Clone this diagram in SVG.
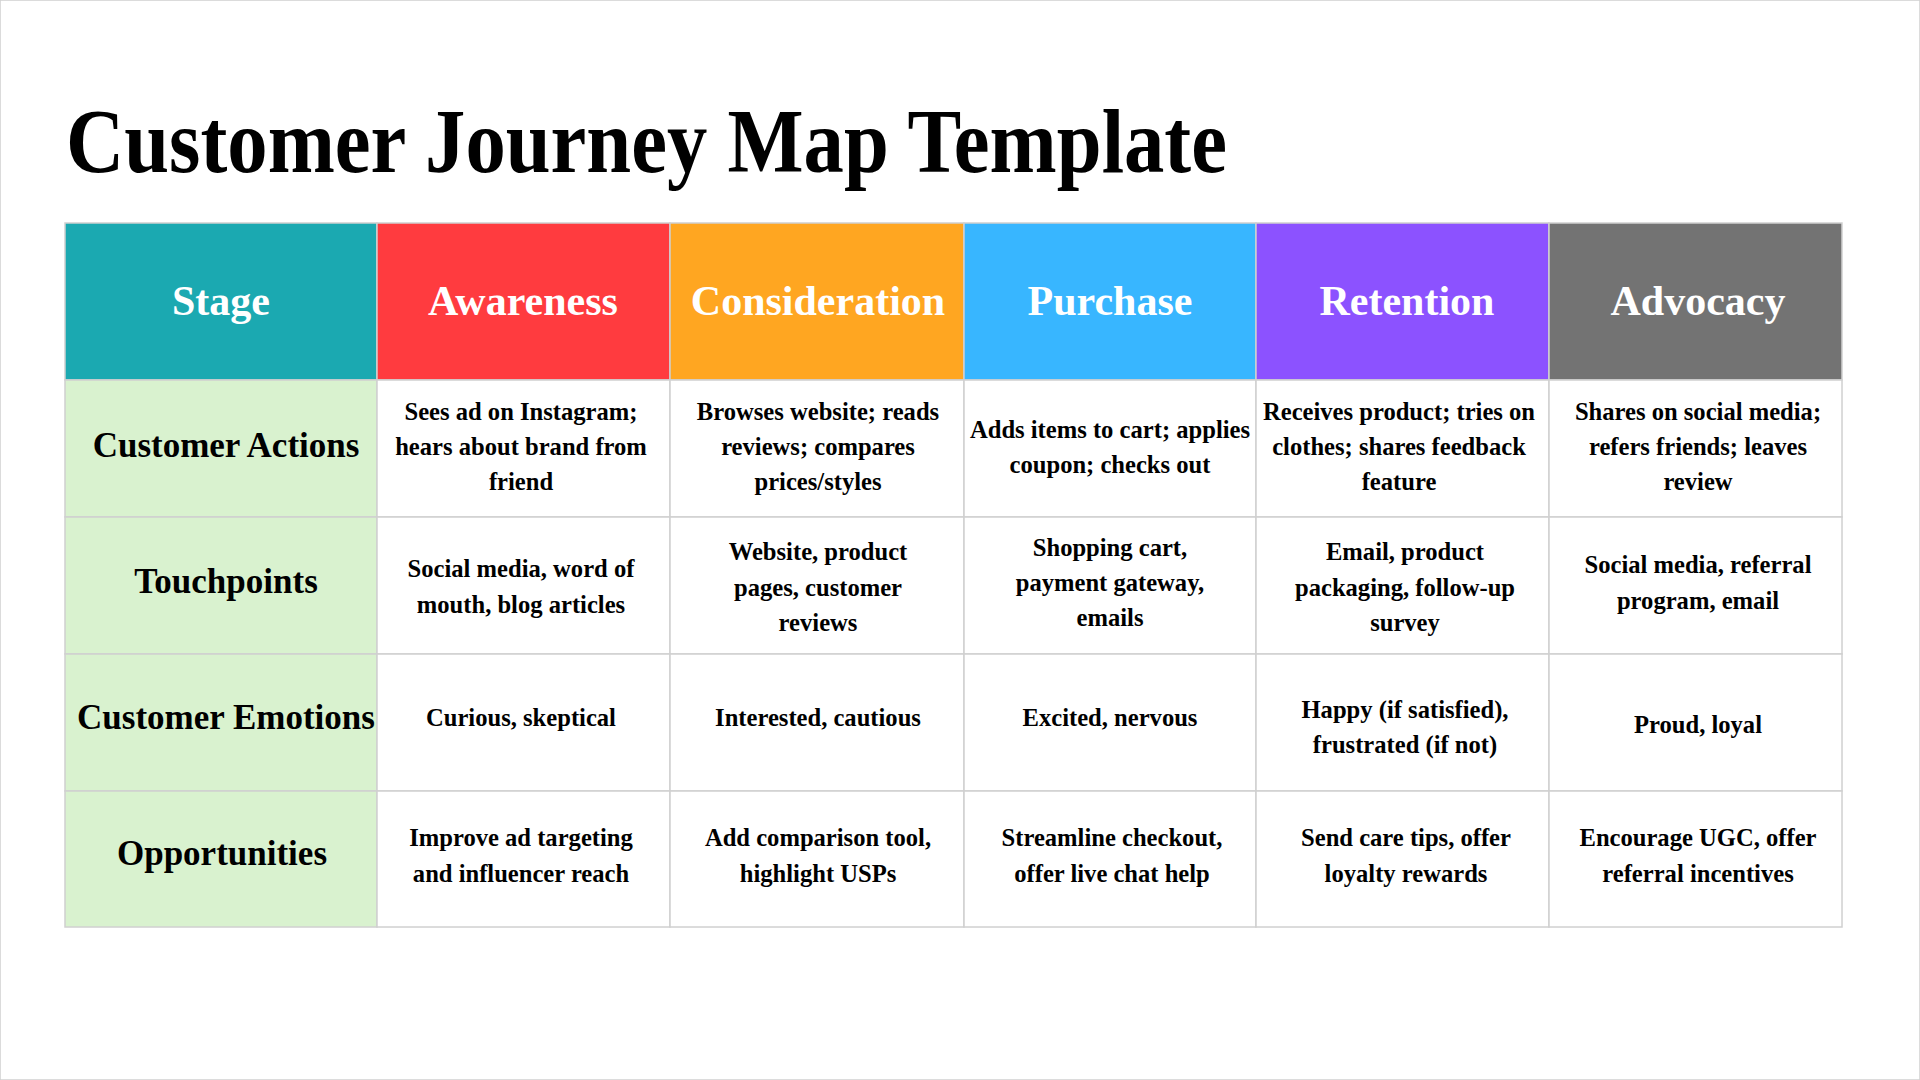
<svg xmlns="http://www.w3.org/2000/svg" width="1920" height="1080" viewBox="0 0 1920 1080">
<style>
text{font-family:"Liberation Serif","Times New Roman",serif;font-weight:bold;text-anchor:middle;dominant-baseline:central}
.t{font-size:90px;text-anchor:start;dominant-baseline:alphabetic}
.h{font-size:42px;fill:#fff}
.l{font-size:35px;fill:#000}
.c{font-size:24.6px;fill:#000}
rect{stroke:#d0d0d0;stroke-width:1.5}
.w{fill:#fff}
.g{fill:#D9F2CF}
</style>
<rect x="0" y="0" width="1920" height="1080" fill="#fff" stroke="none"/>
<text class="t" x="66" y="172" textLength="1161" lengthAdjust="spacingAndGlyphs">Customer Journey Map Template</text>
<g id="header">
<rect x="65" y="223" width="312" height="157" fill="#1BA9B1"/>
<rect x="377" y="223" width="293" height="157" fill="#FF3B3F"/>
<rect x="670" y="223" width="294" height="157" fill="#FFA621"/>
<rect x="964" y="223" width="292" height="157" fill="#38B6FF"/>
<rect x="1256" y="223" width="293" height="157" fill="#8C52FF"/>
<rect x="1549" y="223" width="293" height="157" fill="#737373"/>
<text class="h" x="221" y="301">Stage</text>
<text class="h" x="523" y="301">Awareness</text>
<text class="h" x="818" y="301">Consideration</text>
<text class="h" x="1110" y="301">Purchase</text>
<text class="h" x="1407" y="301">Retention</text>
<text class="h" x="1698" y="301">Advocacy</text>
</g>
<g id="row-actions">
<rect class="g" x="65" y="380" width="312" height="137"/>
<rect class="w" x="377" y="380" width="293" height="137"/><rect class="w" x="670" y="380" width="294" height="137"/><rect class="w" x="964" y="380" width="292" height="137"/><rect class="w" x="1256" y="380" width="293" height="137"/><rect class="w" x="1549" y="380" width="293" height="137"/>
<text class="l" x="226" y="445">Customer Actions</text>
<text class="c" x="521" y="411">Sees ad on Instagram;</text><text class="c" x="521" y="446">hears about brand from</text><text class="c" x="521" y="481">friend</text>
<text class="c" x="818" y="411">Browses website; reads</text><text class="c" x="818" y="446">reviews; compares</text><text class="c" x="818" y="481">prices/styles</text>
<text class="c" x="1110" y="429">Adds items to cart; applies</text><text class="c" x="1110" y="464">coupon; checks out</text>
<text class="c" x="1399" y="411">Receives product; tries on</text><text class="c" x="1399" y="446">clothes; shares feedback</text><text class="c" x="1399" y="481">feature</text>
<text class="c" x="1698" y="411">Shares on social media;</text><text class="c" x="1698" y="446">refers friends; leaves</text><text class="c" x="1698" y="481">review</text>
</g>
<g id="row-touchpoints">
<rect class="g" x="65" y="517" width="312" height="137"/>
<rect class="w" x="377" y="517" width="293" height="137"/><rect class="w" x="670" y="517" width="294" height="137"/><rect class="w" x="964" y="517" width="292" height="137"/><rect class="w" x="1256" y="517" width="293" height="137"/><rect class="w" x="1549" y="517" width="293" height="137"/>
<text class="l" x="226" y="581">Touchpoints</text>
<text class="c" x="521" y="568">Social media, word of</text><text class="c" x="521" y="604">mouth, blog articles</text>
<text class="c" x="818" y="551">Website, product</text><text class="c" x="818" y="587">pages, customer</text><text class="c" x="818" y="622">reviews</text>
<text class="c" x="1110" y="547">Shopping cart,</text><text class="c" x="1110" y="582">payment gateway,</text><text class="c" x="1110" y="617">emails</text>
<text class="c" x="1405" y="551">Email, product</text><text class="c" x="1405" y="587">packaging, follow-up</text><text class="c" x="1405" y="622">survey</text>
<text class="c" x="1698" y="564">Social media, referral</text><text class="c" x="1698" y="600">program, email</text>
</g>
<g id="row-emotions">
<rect class="g" x="65" y="654" width="312" height="137"/>
<rect class="w" x="377" y="654" width="293" height="137"/><rect class="w" x="670" y="654" width="294" height="137"/><rect class="w" x="964" y="654" width="292" height="137"/><rect class="w" x="1256" y="654" width="293" height="137"/><rect class="w" x="1549" y="654" width="293" height="137"/>
<text class="l" x="226" y="717">Customer Emotions</text>
<text class="c" x="521" y="717">Curious, skeptical</text>
<text class="c" x="818" y="717">Interested, cautious</text>
<text class="c" x="1110" y="717">Excited, nervous</text>
<text class="c" x="1405" y="709">Happy (if satisfied),</text><text class="c" x="1405" y="744">frustrated (if not)</text>
<text class="c" x="1698" y="724">Proud, loyal</text>
</g>
<g id="row-opportunities">
<rect class="g" x="65" y="791" width="312" height="136"/>
<rect class="w" x="377" y="791" width="293" height="136"/><rect class="w" x="670" y="791" width="294" height="136"/><rect class="w" x="964" y="791" width="292" height="136"/><rect class="w" x="1256" y="791" width="293" height="136"/><rect class="w" x="1549" y="791" width="293" height="136"/>
<text class="l" x="222" y="853">Opportunities</text>
<text class="c" x="521" y="837">Improve ad targeting</text><text class="c" x="521" y="873">and influencer reach</text>
<text class="c" x="818" y="837">Add comparison tool,</text><text class="c" x="818" y="873">highlight USPs</text>
<text class="c" x="1112" y="837">Streamline checkout,</text><text class="c" x="1112" y="873">offer live chat help</text>
<text class="c" x="1406" y="837">Send care tips, offer</text><text class="c" x="1406" y="873">loyalty rewards</text>
<text class="c" x="1698" y="837">Encourage UGC, offer</text><text class="c" x="1698" y="873">referral incentives</text>
</g>
<g id="connectors"/>
</svg>
